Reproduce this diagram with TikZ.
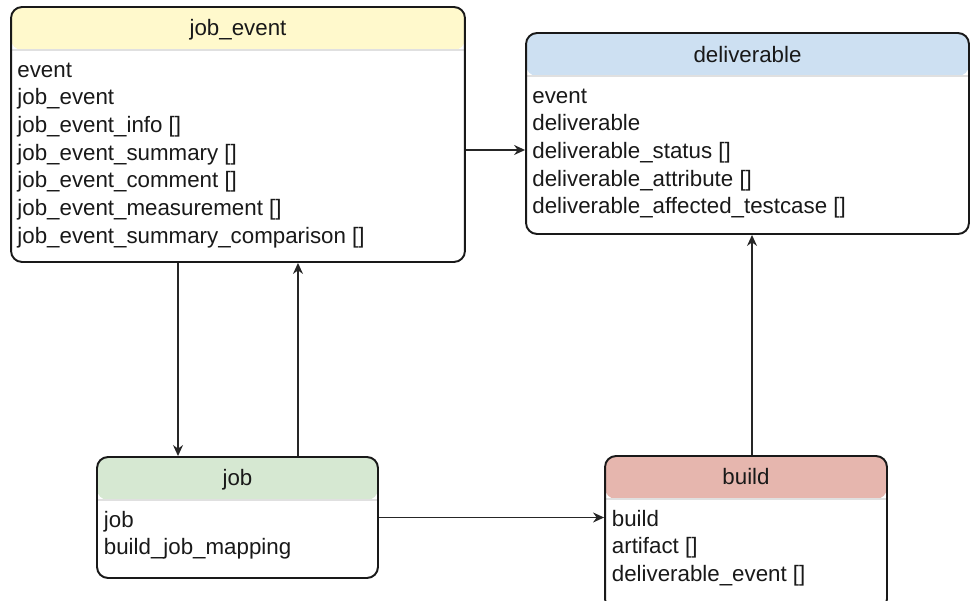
\documentclass[tikz,border=0pt]{standalone}
\usepackage{fontspec}
\setmainfont{Liberation Sans}
\usepackage{xcolor}
\usepackage{tikz}
\usetikzlibrary{positioning,arrows.meta}

\definecolor{eventyellow}{RGB}{255,249,204}
\definecolor{delivblue}{RGB}{205,224,242}
\definecolor{jobgreen}{RGB}{214,232,210}
\definecolor{buildred}{RGB}{230,182,174}

\begin{document}
\begin{tikzpicture}[x=0.02cm,y=-0.02cm,font=\fontsize{12.7}{15.8}\selectfont]
    \tikzstyle{entity}=[rectangle,draw=black!90,line width=1.1pt,rounded corners=0.22cm,fill=white,inner sep=0pt]
    \tikzstyle{header}=[path picture={
        \fill[#1] (path picture bounding box.north west) rectangle ([yshift=-\headh]path picture bounding box.north east);
        \draw[black!12] ([yshift=-\headh]path picture bounding box.north west) -- ([yshift=-\headh]path picture bounding box.north east);}]
    \tikzstyle{title}=[anchor=base,inner sep=0pt,text=black!90]
    \tikzstyle{field}=[anchor=base west,inner sep=0pt,text=black!90]
    \tikzstyle{link}=[-{Stealth[length=0.22cm,width=0.2cm]},draw=black!85,line width=0.8pt]

    \newcommand{\headh}{0.86cm}
    \newcommand{\rowsep}{0.554cm}

    \useasboundingbox (0,0) rectangle (970,601);

    % Draw the job_event box
    \node[entity,header=eventyellow,minimum width=9.08cm,minimum height=5.1cm] (jobevent) at (238,134.5) {};
    \node[title] (jobevent-title) at ([yshift=-0.58cm]jobevent.north) {job\_event};
    \foreach \txt [count=\i] in {event,job\_event,{job\_event\_info []},{job\_event\_summary []},
        {job\_event\_comment []},{job\_event\_measurement []},{job\_event\_summary\_comparison []}}
        \node[field] (jobevent-\i) at ([xshift=0.14cm,yshift=-1.42cm-(\i-1)*\rowsep]jobevent.north west) {\txt};

    % Draw the deliverable box
    \node[entity,header=delivblue,minimum width=8.86cm,minimum height=4.02cm] (deliverable) at (747.5,133.5) {};
    \node[title] (deliverable-title) at ([yshift=-0.6cm]deliverable.north) {deliverable};
    \foreach \txt [count=\i] in {event,deliverable,{deliverable\_status []},{deliverable\_attribute []},
        {deliverable\_affected\_testcase []}}
        \node[field] (deliverable-\i) at ([xshift=0.14cm,yshift=-1.42cm-(\i-1)*\rowsep]deliverable.north west) {\txt};

    % Draw the job box
    \node[entity,header=jobgreen,minimum width=5.62cm,minimum height=2.42cm] (job) at (237.5,517.5) {};
    \node[title] (job-title) at ([yshift=-0.59cm]job.north) {job};
    \foreach \txt [count=\i] in {job,build\_job\_mapping}
        \node[field] (job-\i) at ([xshift=0.15cm,yshift=-1.42cm-(\i-1)*\rowsep]job.north west) {\txt};

    % Draw the build box (runs off the bottom edge)
    \node[entity,header=buildred,minimum width=5.64cm,minimum height=3.08cm] (build) at (746,533) {};
    \node[title] (build-title) at ([yshift=-0.58cm]build.north) {build};
    \foreach \txt [count=\i] in {build,{artifact []},{deliverable\_event []}}
        \node[field] (build-\i) at ([xshift=0.15cm,yshift=-1.42cm-(\i-1)*\rowsep]build.north west) {\txt};

    % Connect the boxes
    \draw[link] ([yshift=-0.31cm]jobevent.east) -- ([yshift=-0.31cm]jobevent.east -| deliverable.west);
    \draw[link] ([xshift=-1.2cm]jobevent.south) -- ([xshift=-1.2cm]jobevent.south |- job.north);
    \draw[link] ([xshift=1.21cm]job.north) -- ([xshift=1.21cm]job.north |- jobevent.south);
    \draw[link] (job.east) -- (job.east -| build.west);
    \draw[link] ([xshift=0.12cm]build.north) -- ([xshift=0.12cm]build.north |- deliverable.south);
\end{tikzpicture}
\end{document}
